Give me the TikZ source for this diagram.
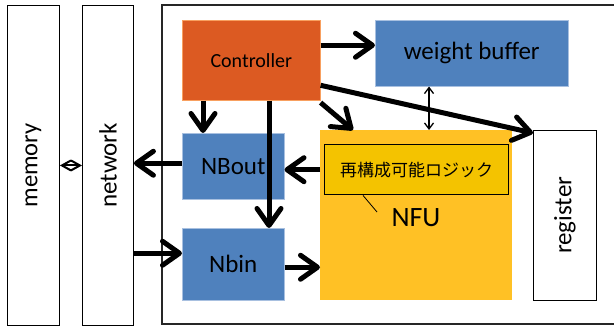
\documentclass[tikz,border=0pt]{standalone}
\usepackage{fontspec}
\setmainfont{Carlito}
\newfontfamily\jp{Noto Sans CJK JP}
\usetikzlibrary{arrows.meta}
\definecolor{ctrlfill}{HTML}{DC5A22}
\definecolor{ctrlline}{HTML}{F8A060}
\definecolor{bluefill}{HTML}{4F81BD}
\definecolor{blueline}{HTML}{A8C0E0}
\definecolor{nfufill}{HTML}{FFC125}
\definecolor{logicfill}{HTML}{F4C300}
\tikzset{
  plain/.style={draw=black, line width=0.9pt, fill=white, inner sep=0pt},
  bluebox/.style={fill=bluefill, draw=blueline, line width=0.5pt, inner sep=0pt, anchor=north west},
  bigarrow/.style={line width=5pt, -{Straight Barb[length=17pt,width=24pt,line width=5pt,round]}},
  thinarrow/.style={line width=1.3pt, {Straight Barb[length=6pt,width=9pt]}-{Straight Barb[length=6pt,width=9pt]}},
  memarrow/.style={line width=2pt, {Straight Barb[length=9pt,width=10pt]}-{Straight Barb[length=9pt,width=10pt]}}
}
\begin{document}
\begin{tikzpicture}[x=1pt,y=-1pt]
\useasboundingbox (0,0) rectangle (614,329);
% outer box
\draw[line width=1.3pt, draw=black!85] (700,5) -- (162,5) -- (162,324) -- (700,324);
% memory and network
\node[plain, minimum width=52pt, minimum height=320pt, anchor=north west] (memory) at (7,5) {};
\node[rotate=90, font=\fontsize{24.5}{27}\selectfont] at (memory.center) {memory};
\node[plain, minimum width=51pt, minimum height=320pt, anchor=north west] (network) at (82,5) {};
\node[rotate=90, font=\fontsize{25}{28}\selectfont] at (network.center) {network};
% controller
\node[fill=ctrlfill, draw=ctrlline, line width=0.6pt, minimum width=138pt, minimum height=80pt, anchor=north west, inner sep=0pt, font=\fontsize{20}{23}\selectfont] (ctrl) at (182,20) {Controller};
% weight buffer
\node[bluebox, minimum width=193pt, minimum height=66pt, font=\fontsize{25}{28}\selectfont] (wb) at (375,20) {weight buffer};
% NBout, Nbin
\node[bluebox, minimum width=102pt, minimum height=66pt, font=\fontsize{25}{28}\selectfont] (nbout) at (182,133) {NBout};
\node[bluebox, minimum width=102pt, minimum height=72pt, font=\fontsize{25}{28}\selectfont] (nbin) at (182,228) {Nbin};
% NFU
\node[fill=nfufill, minimum width=192pt, minimum height=170pt, anchor=north west, inner sep=0pt] (nfu) at (320,130) {};
\node[font=\fontsize{28}{31}\selectfont] (nfulabel) at (416,218) {NFU};
\node[fill=logicfill, draw=black, line width=1.4pt, minimum width=184pt, minimum height=50pt, anchor=north west, inner sep=0pt, font=\jp\fontsize{17}{20}\selectfont] (logic) at (324,144) {再構成可能ロジック};
\coordinate (callend) at (377,212);
\draw[line width=0.8pt] ([xshift=39pt]logic.south west) -- (callend);
% register
\node[plain, line width=0.7pt, minimum width=63pt, minimum height=170pt, anchor=north west] (reg) at (533,130) {};
\node[rotate=90, font=\fontsize{25}{28}\selectfont] at (reg.center) {register};
% connectors
\draw[memarrow] (memory.east) -- (network.west);
\draw[bigarrow] ([yshift=3pt]nbout.west) -- ([yshift=3pt]nbout.west -| network.east);
\draw[bigarrow] ([yshift=11pt]nbin.west -| network.east) -- ([yshift=11pt]nbin.west);
\draw[bigarrow] ([yshift=8pt]wb.west -| ctrl.east) -- ([yshift=8pt]wb.west);
\draw[bigarrow] ([yshift=-25pt]ctrl.east) -- ([yshift=-3pt]reg.north west);
\draw[bigarrow] ([yshift=-2pt]ctrl.south east) -- ([xshift=33pt]nfu.north west);
\draw[bigarrow] ([xshift=21pt]ctrl.south west) -- ([xshift=21pt]nbout.north west);
\draw[bigarrow] ([xshift=87pt]ctrl.south west) -- ([xshift=87pt]nbin.north west);
\draw[bigarrow] (logic.west -| nfu.west) -- (logic.west -| nbout.east);
\draw[bigarrow] ([yshift=-3pt]nbin.east) -- ([yshift=-3pt]nbin.east -| nfu.west);
\draw[thinarrow] ([xshift=54pt]wb.south west) -- ([xshift=54pt]wb.south west |- nfu.north);
\end{tikzpicture}
\end{document}
